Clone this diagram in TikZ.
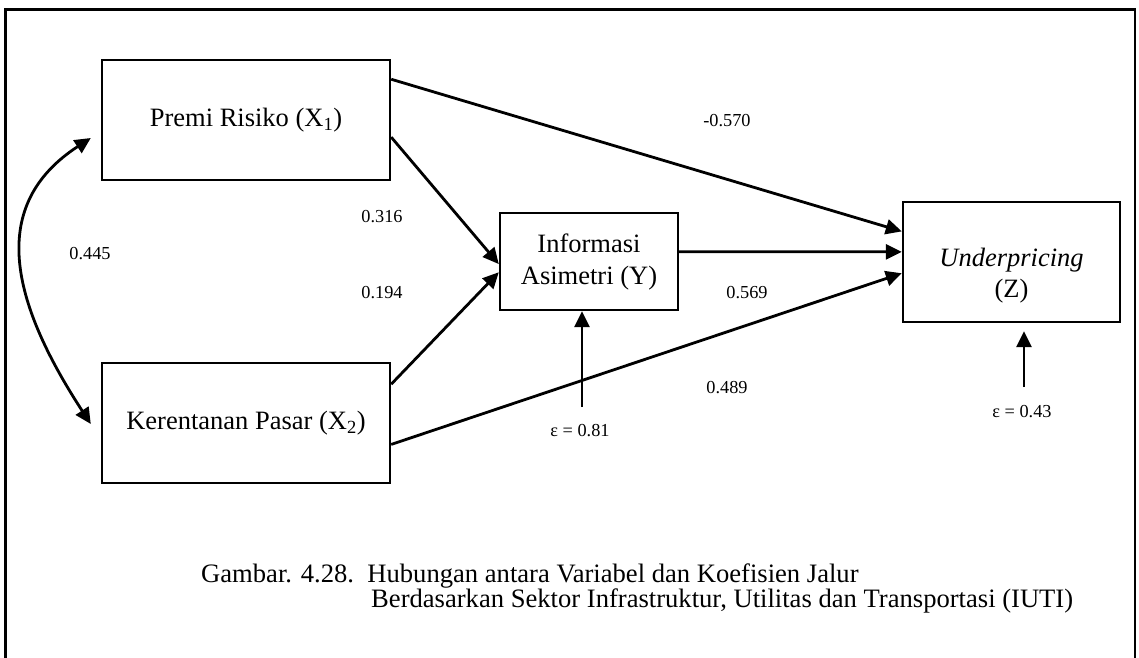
\documentclass[tikz,border=0pt]{standalone}
\usepackage{fontspec}
\setmainfont{Liberation Serif}
\usetikzlibrary{arrows.meta,calc}
\tikzset{
  box/.style={draw,line width=2.4pt,rectangle,inner sep=0pt,align=center,font=\fontsize{26.5}{32}\selectfont},
  conn/.style={line width=2.8pt,-{Triangle[length=16pt,width=15pt]}},
  bothconn/.style={line width=2.8pt,{Triangle[length=16pt,width=15pt]}-{Triangle[length=16pt,width=15pt]}},
  lab/.style={font=\fontsize{18.3}{22}\selectfont,inner sep=0pt},
  captext/.style={font=\fontsize{26.6}{32}\selectfont,inner sep=0pt,anchor=base west}
}
\begin{document}
\begin{tikzpicture}[x=1pt,y=-1pt]
\useasboundingbox (0,0) rectangle (1139,657);
\clip (0,0) rectangle (1139,657);
\draw[line width=2.2pt] (5.5,9.5) rectangle (1135,700);

% boxes
\node[box,minimum width=288pt,minimum height=120pt] (X1) at (246,120) {Premi Risiko (X\textsubscript{1})};
\node[box,minimum width=288pt,minimum height=120pt] (X2) at (246,423) {Kerentanan Pasar (X\textsubscript{2})};
\node[box,minimum width=178pt,minimum height=97pt] (Y) at (589,261.5) {Informasi\\Asimetri (Y)};
\node[box,minimum width=217pt,minimum height=120pt] (Z) at (1011.5,262) {};
\node[align=center,inner sep=0pt,font=\fontsize{26.5}{31}\selectfont] (Zt) at (1011.5,276) {\textit{Underpricing}\\(Z)};

% connectors
\draw[conn] ($(X1.north east)!0.167!(X1.south east)$) -- ($(Z.north west)!0.25!(Z.south west)$);
\draw[conn] ($(X1.north east)!0.64!(X1.south east)$) -- ($(Y.north west)!0.526!(Y.south west)$);
\draw[conn] ($(X2.north east)!0.183!(X2.south east)$) -- ($(Y.north west)!0.608!(Y.south west)$);
\draw[conn] ($(Y.north east)!0.402!(Y.south east)$) -- ($(Z.north west)!0.417!(Z.south west)$);
\draw[conn] ($(X2.north east)!0.675!(X2.south east)$) -- ($(Z.north west)!0.592!(Z.south west)$);
\draw[bothconn] ($(X1.west)+(-10,18)$) .. controls (-12,205) and (10,300) .. ($(X2.west)+(-10,1)$);

% error terms
\coordinate (eYs) at (582,407);
\coordinate (eZs) at (1024,387);
\draw[conn] (eYs) -- (eYs |- Y.south);
\draw[conn] (eZs) -- ($(eZs |- Z.south)+(0,8)$);

% labels
\node[lab] (l1) at (727,121) {-0.570};
\node[lab] (l2) at (382,217) {0.316};
\node[lab] (l3) at (90,254) {0.445};
\node[lab] (l4) at (382,293) {0.194};
\node[lab] (l5) at (747,293) {0.569};
\node[lab] (l6) at (727,388) {0.489};
\node[lab] (l7) at (580,431) {ε = 0.81};
\node[lab] (l8) at (1022,412) {ε = 0.43};

% caption
\node[captext] (c1) at (201,582) {Gambar. 4.28.\ \ Hubungan antara Variabel dan Koefisien Jalur};
\node[captext] (c2) at (371,607) {Berdasarkan Sektor Infrastruktur, Utilitas dan Transportasi (IUTI)};
\end{tikzpicture}
\end{document}
